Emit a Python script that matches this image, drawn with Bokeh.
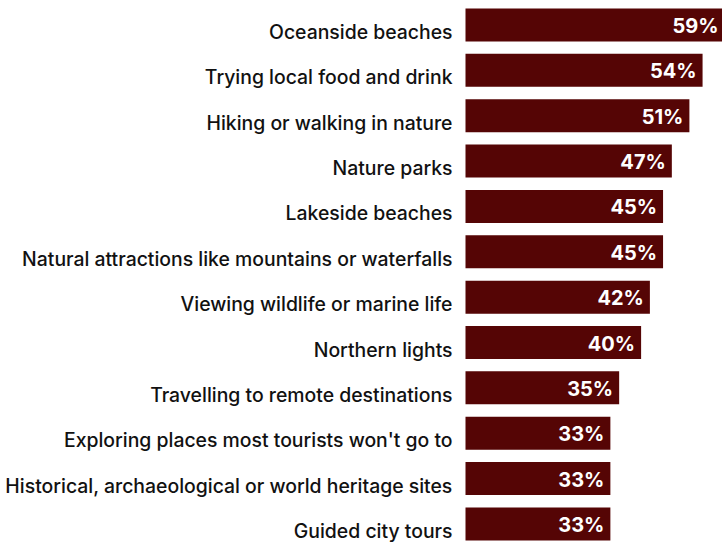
from bokeh.plotting import figure
from bokeh.models import ColumnDataSource, Range1d
from bokeh.core.properties import value
from bokeh.embed import file_html
from bokeh.resources import INLINE

categories = [
    "Oceanside beaches",
    "Trying local food and drink",
    "Hiking or walking in nature",
    "Nature parks",
    "Lakeside beaches",
    "Natural attractions like mountains or waterfalls",
    "Viewing wildlife or marine life",
    "Northern lights",
    "Travelling to remote destinations",
    "Exploring places most tourists won't go to",
    "Historical, archaeological or world heritage sites",
    "Guided city tours",
]
values = [59, 54, 51, 47, 45, 45, 42, 40, 35, 33, 33, 33]
value_labels = [f"{v}%" for v in values]

pos = list(range(len(categories)))
src = ColumnDataSource(dict(y=pos, v=values, cat=categories, lab=value_labels))

W, H = 722, 543
p = figure(width=W, height=H, output_backend="svg", toolbar_location=None,
           x_range=Range1d(-105.92, 58.54), y_range=Range1d(11.431, -0.540),
           min_border=0)
p.xaxis.visible = False
p.yaxis.visible = False
p.grid.visible = False
p.outline_line_color = None
p.background_fill_color = "white"
p.border_fill_color = "white"

color = "#550505"
p.hbar(y="y", left=0, right="v", height=0.7275, source=src, fill_color=color, line_color=None)

font = value("Inter Medium, Inter")
p.text(x=0, y="y", text="cat", source=src, x_offset=-13, y_offset=7, text_align="right",
       text_baseline="middle", text_font=font, text_font_size="19.4px", text_color="#111111")
p.text(x="v", y="y", text="lab", source=src, x_offset=-6, y_offset=1, text_align="right",
       text_baseline="middle", text_font=value("Inter"), text_font_size="20px",
       text_font_style="bold", text_color="white")

open("out.html", "w").write(file_html(p, INLINE))
